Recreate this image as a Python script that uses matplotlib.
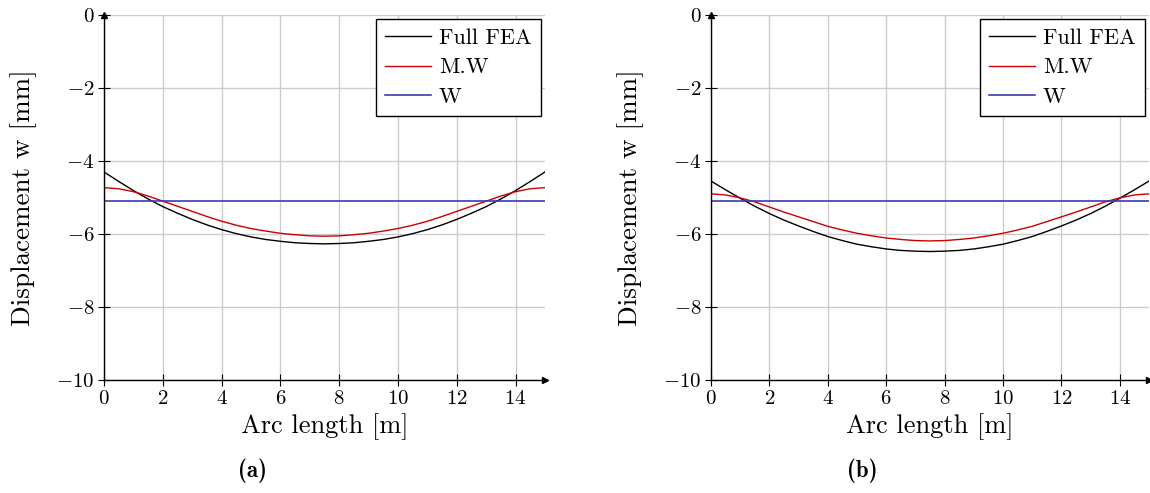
import matplotlib.pyplot as plt
import numpy as np

plt.rcParams['font.family'] = 'cmr10'
plt.rcParams['mathtext.fontset'] = 'cm'
plt.rcParams['axes.formatter.use_mathtext'] = True

# --- values, every 0.5 m from 0 to 7.5 m ---
# (the curves are symmetric about mid-span, so the second half mirrors the first)
arc = np.arange(0, 15.5, 0.5)

fea_a_half = [-4.30, -4.56, -4.81, -5.04, -5.25, -5.43, -5.60, -5.75,
              -5.88, -5.99, -6.08, -6.15, -6.20, -6.24, -6.26, -6.27]
mw_a_half = [-4.73, -4.76, -4.84, -4.96, -5.10, -5.24, -5.38, -5.52,
             -5.65, -5.76, -5.85, -5.92, -5.98, -6.02, -6.05, -6.06]
fea_b_half = [-4.55, -4.79, -5.02, -5.24, -5.44, -5.62, -5.78, -5.93,
              -6.07, -6.18, -6.28, -6.35, -6.41, -6.45, -6.47, -6.48]
mw_b_half = [-4.90, -4.93, -5.01, -5.12, -5.26, -5.40, -5.53, -5.66,
             -5.79, -5.89, -5.98, -6.05, -6.11, -6.15, -6.18, -6.19]
w_level = -5.10

def mirror(half):
    return half + half[-2::-1]

panels = [("(a)", mirror(fea_a_half), mirror(mw_a_half)),
          ("(b)", mirror(fea_b_half), mirror(mw_b_half))]
xticks = [0, 2, 4, 6, 8, 10, 12, 14]
yticks = [0, -2, -4, -6, -8, -10]

fig = plt.figure(figsize=(11.5, 4.93), dpi=100)
axes_pos = [[104 / 1150, 113 / 493, 441 / 1150, 365 / 493],
            [711 / 1150, 113 / 493, 438 / 1150, 365 / 493]]
caption_x = [253 / 1150, 862 / 1150]

for i, (tag, fea, mw) in enumerate(panels):
    ax = fig.add_axes(axes_pos[i])
    ax.plot(arc, fea, color='black', lw=1.0, label='Full FEA')
    ax.plot(arc, mw, color='#cc0000', lw=1.0, label='M.W')
    ax.plot(arc, [w_level] * len(arc), color='#3a3ab4', lw=1.2, label='W')

    ax.set_xlim(0, 15)
    ax.set_ylim(-10, 0)
    ax.set_xticks(xticks)
    ax.set_yticks(yticks)
    ax.grid(True, color='#cccccc', lw=1.0)
    ax.set_axisbelow(True)
    for side in ['top', 'right']:
        ax.spines[side].set_visible(False)
    ax.spines['left'].set_linewidth(1.0)
    ax.spines['bottom'].set_linewidth(1.0)
    ax.tick_params(direction='inout', length=8, width=0.8, labelsize=15, pad=3)

    # axis arrows
    ax.plot(1, 0, marker='>', color='black', ms=5, transform=ax.transAxes, clip_on=False)
    ax.plot(0, 1, marker='^', color='black', ms=5, transform=ax.transAxes, clip_on=False)

    ax.set_xlabel("Arc length [m]", fontsize=19, labelpad=4)
    ax.set_ylabel("Displacement w [mm]", fontsize=19.5, labelpad=14)

    leg = ax.legend(loc='upper right', fontsize=16, frameon=True, fancybox=False,
                    framealpha=1, edgecolor='black', borderaxespad=0.2,
                    handlelength=2.1, handletextpad=0.35, labelspacing=0.45,
                    borderpad=0.4)
    leg.get_frame().set_linewidth(1.0)

    fig.text(caption_x[i], 0.045, tag, fontsize=16.5, family='cmb10', ha='center', va='center')

fig.savefig("out.png", dpi=100)
